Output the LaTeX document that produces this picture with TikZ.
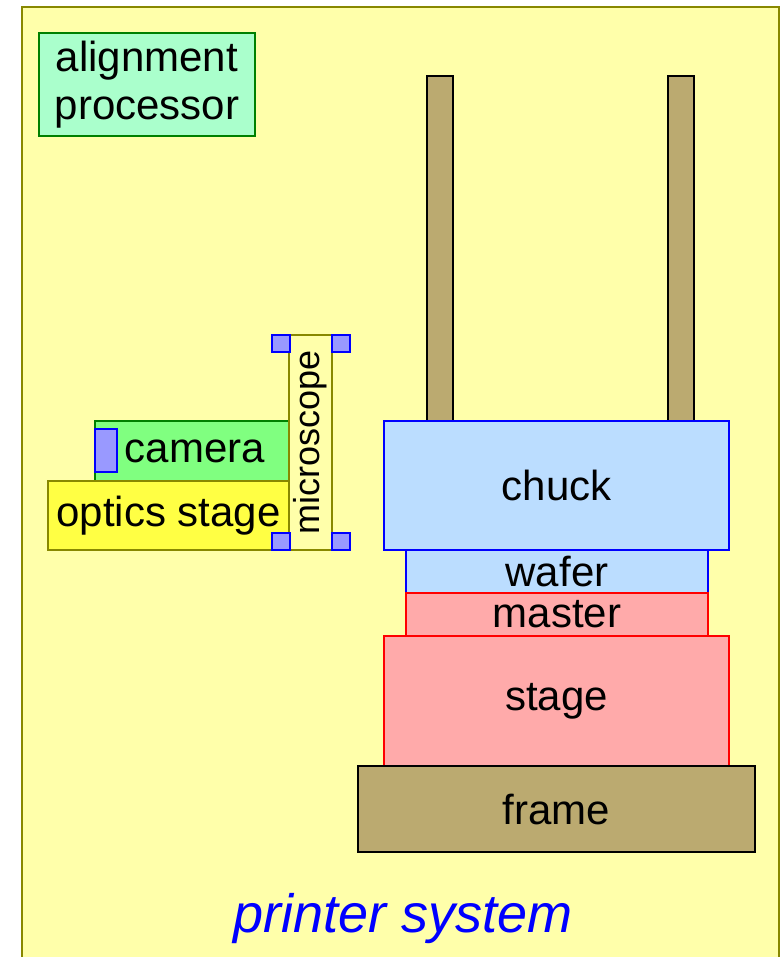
\documentclass[tikz,border=0pt]{standalone}
\usepackage{fontspec}
\setmainfont{Liberation Sans}
\newcommand\bigf{\fontsize{42}{48}\selectfont}
\newcommand\micf{\fontsize{36}{40}\selectfont}
\definecolor{bgyellow}{HTML}{FFFFAA}
\definecolor{olivebd}{HTML}{888800}
\definecolor{mint}{HTML}{AAFFCC}
\definecolor{darkgr}{HTML}{008000}
\definecolor{camgreen}{HTML}{80FF80}
\definecolor{optyellow}{HTML}{FFFF44}
\definecolor{sqblue}{HTML}{9999FF}
\definecolor{lightblue}{HTML}{BBDDFF}
\definecolor{pink}{HTML}{FFAAAA}
\definecolor{tan}{HTML}{BBAA70}
\tikzset{
  box/.style={draw, line width=1.5pt, inner sep=0pt, outer sep=0pt, font=\bigf, anchor=north west, align=center},
  bluebox/.style={box, draw=blue, fill=lightblue},
  redbox/.style={box, draw=red, fill=pink},
  tanbox/.style={box, draw=black, fill=tan},
  sqbox/.style={box, draw=blue, fill=sqblue},
}
\begin{document}
\begin{tikzpicture}[x=1pt, y=-1pt]
\useasboundingbox (0,0) rectangle (781,957);
\clip (0,0) rectangle (781,957);
\draw[line width=2.5pt, draw=olivebd, fill=bgyellow] (22,7) rectangle (779,975);
\node[box, draw=darkgr, fill=mint, minimum width=216pt, minimum height=103pt] (align) at (39,33) {alignment\\processor};
\node[tanbox, minimum width=26pt, minimum height=345pt] (postL) at (427,76) {};
\node[tanbox, minimum width=26pt, minimum height=345pt] (postR) at (668,76) {};
\node[bluebox, minimum width=345pt, minimum height=129pt] (chuck) at (384,421) {chuck};
\node[bluebox, minimum width=302pt, minimum height=43pt] (wafer) at (406,550) {wafer};
\node[redbox, minimum width=302pt, minimum height=43pt] (master) at (406,593) {master};
\node[redbox, minimum width=345pt, minimum height=130pt] (stage) at (384,636) {stage};
\node[tanbox, minimum width=397pt, minimum height=86pt] (frame) at (358,766) {frame};
\node[box, draw=darkgr, fill=camgreen, minimum width=194pt, minimum height=60pt] (camera) at (95,421) {\hspace*{6pt}camera};
\node[box, draw=olivebd, fill=optyellow, minimum width=241pt, minimum height=69pt] (optics) at (48,481) {optics stage};
\node[box, draw=olivebd, fill=bgyellow, anchor=center, rotate=90, font=\micf, minimum width=215pt, minimum height=43pt] (micro) at (310.5,442.5) {\raisebox{-2pt}{microscope}};
\node[sqbox, minimum width=18pt, minimum height=17pt] (sqTL) at (272,335) {};
\node[sqbox, minimum width=18pt, minimum height=17pt] (sqTR) at (332,335) {};
\node[sqbox, minimum width=18pt, minimum height=17pt] (sqBL) at (272,533) {};
\node[sqbox, minimum width=18pt, minimum height=17pt] (sqBR) at (332,533) {};
\node[sqbox, minimum width=22pt, minimum height=43pt] (camsq) at (95,429) {};
\node[font=\fontsize{54}{60}\selectfont\itshape, text=blue, anchor=base, inner sep=0pt] (title) at (403,932) {printer system};
\end{tikzpicture}
\end{document}
